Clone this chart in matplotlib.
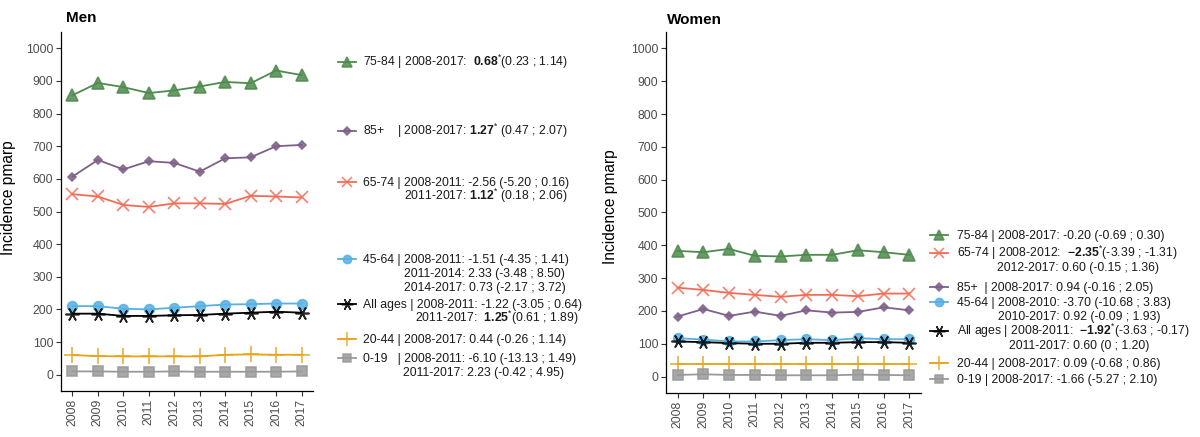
"""
Incidence pmarp by age group, men and women, 2008-2017
"""
import matplotlib
matplotlib.use('Agg')
import matplotlib.pyplot as plt

plt.rcParams['font.family'] = ['Liberation Sans', 'DejaVu Sans']
plt.rcParams['mathtext.fontset'] = 'custom'
plt.rcParams['mathtext.rm'] = 'Liberation Sans'
plt.rcParams['mathtext.bf'] = 'Liberation Sans:bold'
plt.rcParams['mathtext.it'] = 'Liberation Sans:italic'

W, H = 1200, 437

# Data
years = [2008, 2009, 2010, 2011, 2012, 2013, 2014, 2015, 2016, 2017]
groups = ['75-84', '85+', '65-74', '45-64', 'All ages', '20-44', '0-19']

men_75_84 = [856, 894, 881, 863, 871, 883, 897, 893, 932, 918]
men_85 = [607, 658, 629, 654, 649, 622, 663, 666, 700, 704]
men_65_74 = [553, 546, 520, 514, 525, 525, 523, 548, 546, 543]
men_45_64 = [210, 210, 202, 200, 205, 210, 215, 216, 218, 218]
men_all = [187, 187, 180, 180, 182, 183, 187, 190, 193, 190]
men_20_44 = [60, 57, 56, 56, 56, 56, 61, 62, 61, 61]
men_0_19 = [10, 10, 9, 9, 10, 9, 9, 9, 9, 10]

women_75_84 = [383, 379, 389, 368, 366, 371, 371, 385, 379, 371]
women_85 = [183, 206, 185, 198, 185, 202, 195, 197, 211, 202]
women_65_74 = [271, 264, 255, 249, 243, 249, 249, 245, 253, 253]
women_45_64 = [117, 113, 107, 107, 111, 114, 111, 117, 114, 114]
women_all = [107, 105, 102, 100, 100, 103, 103, 105, 105, 103]
women_20_44 = [38, 38, 38, 38, 38, 38, 38, 38, 38, 38]
women_0_19 = [5, 7, 5, 5, 4, 4, 4, 6, 5, 4]

men_values = [men_75_84, men_85, men_65_74, men_45_64, men_all, men_20_44, men_0_19]
women_values = [women_75_84, women_85, women_65_74, women_45_64, women_all, women_20_44, women_0_19]

# legend texts (first line, continuation lines)
men_labels = [
    ['75-84 | 2008-2017:  $\\mathbf{0.68}^{*}$(0.23 ; 1.14)'],
    ['85+    | 2008-2017: $\\mathbf{1.27}^{*}$ (0.47 ; 2.07)'],
    ['65-74 | 2008-2011: -2.56 (-5.20 ; 0.16)', '2011-2017: $\\mathbf{1.12}^{*}$ (0.18 ; 2.06)'],
    ['45-64 | 2008-2011: -1.51 (-4.35 ; 1.41)', '2011-2014: 2.33 (-3.48 ; 8.50)',
     '2014-2017: 0.73 (-2.17 ; 3.72)'],
    ['All ages | 2008-2011: -1.22 (-3.05 ; 0.64)', '2011-2017:  $\\mathbf{1.25}^{*}$(0.61 ; 1.89)'],
    ['20-44 | 2008-2017: 0.44 (-0.26 ; 1.14)'],
    ['0-19   | 2008-2011: -6.10 (-13.13 ; 1.49)', '2011-2017: 2.23 (-0.42 ; 4.95)'],
]
women_labels = [
    ['75-84 | 2008-2017: -0.20 (-0.69 ; 0.30)'],
    ['85+  | 2008-2017: 0.94 (-0.16 ; 2.05)'],
    ['65-74 | 2008-2012:  $\\mathbf{-2.35}^{*}$(-3.39 ; -1.31)', '2012-2017: 0.60 (-0.15 ; 1.36)'],
    ['45-64 | 2008-2010: -3.70 (-10.68 ; 3.83)', '2010-2017: 0.92 (-0.09 ; 1.93)'],
    ['All ages | 2008-2011:  $\\mathbf{-1.92}^{*}$(-3.63 ; -0.17)', '2011-2017: 0.60 (0 ; 1.20)'],
    ['20-44 | 2008-2017: 0.09 (-0.68 ; 0.86)'],
    ['0-19 | 2008-2017: -1.66 (-5.27 ; 2.10)'],
]

# Styles per group
colors = ['#4f8a4f', '#7e6088', '#f26c55', '#56b0e4', '#000000', '#e8a317', '#999999']
markers = ['^', 'D', 'x', 'o', (6, 2, 90), '+', 's']
msizes = [8, 4.5, 9, 7, 10, 12, 7]

# legend layout (pixels): first-line y, continuation x, continuation ys
men_leg = dict(key_x=347, text_x=363,
               ys=[62, 131, 182, 259, 304, 339, 358],
               cont_x=[None, None, 404, 404, 415, None, 403],
               cont_dy=14)
women_leg = dict(key_x=939, text_x=957,
                 ys=[235, 287, 253, 302, 331, 363, 379],
                 cont_x=[None, None, 997, 998, 1009, None, None],
                 cont_dy=14)

fig = plt.figure(figsize=(W / 100, H / 100), dpi=100)
fig.patch.set_facecolor('white')


def px_axes(left, right, top, bottom):
    return fig.add_axes([left / W, 1 - bottom / H, (right - left) / W, (bottom - top) / H])


ax_m = px_axes(61, 313, 32, 391)
ax_w = px_axes(666, 921, 32, 393)

for ax, vals, title, tx, ty, ylab_y in [(ax_m, men_values, 'Men', 66, 18, 0.54),
                                          (ax_w, women_values, 'Women', 667, 20, 0.515)]:
    for v, c, m, ms in zip(vals, colors, markers, msizes):
        ax.plot(years, v, color=c, lw=1.3, zorder=2)
        ax.plot(years, v, color=c, lw=0, marker=m, ms=ms, mew=1.2,
                alpha=0.85, zorder=3)
    ax.set_xlim(2007.55, 2017.45)
    ax.set_ylim(-50, 1050)
    ax.set_xticks(years)
    ax.set_xticklabels([str(y) for y in years], rotation=90)
    ax.set_yticks(range(0, 1001, 100))
    ax.tick_params(axis='both', labelsize=8.8, labelcolor='#4d4d4d', color='#333333',
                   length=3.5, width=0.8, pad=2)
    for s in ['top', 'right']:
        ax.spines[s].set_visible(False)
    for s in ['left', 'bottom']:
        ax.spines[s].set_linewidth(0.9)
    ax.set_ylabel('Incidence pmarp', fontsize=11.2)
    ax.yaxis.set_label_coords(-0.18 if ax is ax_m else -0.19, ylab_y)
    fig.text(tx / W, 1 - ty / H, title, fontsize=11, fontweight='bold',
             ha='left', va='center')

# legends drawn in a pixel overlay
lax = fig.add_axes([0, 0, 1, 1])
lax.set_xlim(0, W)
lax.set_ylim(H, 0)
lax.axis('off')

for labels, leg in [(men_labels, men_leg), (women_labels, women_leg)]:
    for i, lines in enumerate(labels):
        y = leg['ys'][i]
        kx = leg['key_x']
        lax.plot([kx - 9, kx + 9], [y, y], color=colors[i], lw=1.3)
        lax.plot([kx], [y], color=colors[i], lw=0, marker=markers[i],
                 ms=msizes[i] * 0.85, mew=1.1, alpha=0.85)
        lax.text(leg['text_x'], y + 4, lines[0], fontsize=8.8, color='#1a1a1a',
                 ha='left', va='baseline')
        for j, extra in enumerate(lines[1:]):
            lax.text(leg['cont_x'][i], y + 4 + leg['cont_dy'] * (j + 1), extra,
                     fontsize=8.8, color='#1a1a1a', ha='left', va='baseline')

plt.savefig('out.png', dpi=100, facecolor='white')
plt.close()
